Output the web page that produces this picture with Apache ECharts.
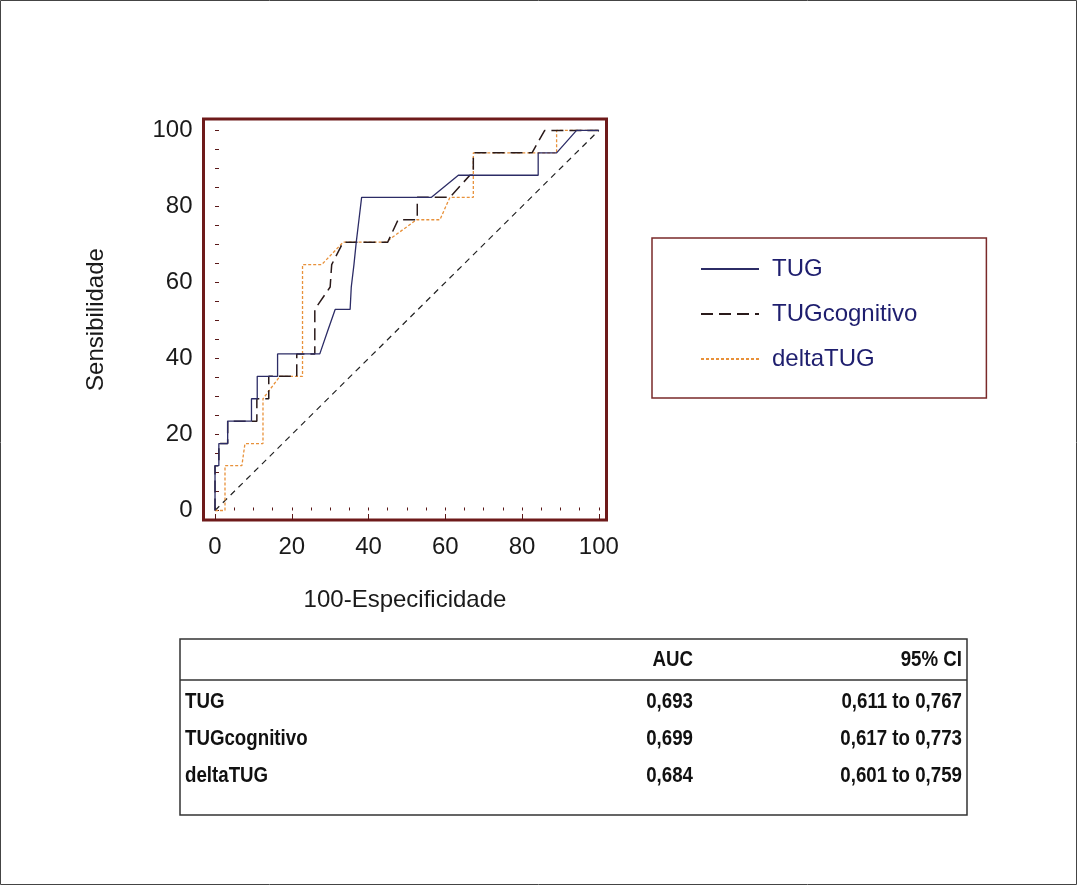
<!DOCTYPE html>
<html>
<head>
<meta charset="utf-8">
<script src="https://cdn.jsdelivr.net/npm/echarts@6/dist/echarts.min.js"></script>
<style>
html,body{margin:0;padding:0;background:#fff;}
#chart{width:1078px;height:886px;}
</style>
</head>
<body>
<div id="chart"></div>
<script>
// ---- data ----
const seriesNames = ['TUG', 'TUGcognitivo', 'deltaTUG'];
const xTickLabels = [0, 20, 40, 60, 80, 100];
const yTickLabels = [0, 20, 40, 60, 80, 100];
const minorTicks = [0,5,10,15,20,25,30,35,40,45,50,55,60,65,70,75,80,85,90,95,100];

const tugPoints = [[0,0],[0,11.8],[1,11.8],[1,17.6],[3.3,17.6],[3.3,23.5],[9.5,23.5],[9.5,29.4],[11,29.4],[11,35.3],[16.3,35.3],[16.3,41.2],[27.3,41.2],[29.3,47.1],[31.3,52.9],[35.2,52.9],[35.5,58.8],[36.2,64.7],[36.8,70.6],[37.5,76.5],[38.2,82.4],[56.4,82.4],[63.4,88.2],[84.2,88.2],[84.2,94.1],[89,94.1],[94.2,100],[100,100]];
const tugCogPoints = [[0,0],[0,11.8],[1,11.8],[1,17.6],[3.3,17.6],[3.3,23.5],[10.9,23.5],[10.9,29.4],[14,29.4],[14,35.3],[21.3,35.3],[21.3,41.2],[26,41.2],[26,52.9],[30,58.8],[30.4,64.7],[33.4,70.6],[45,70.6],[47.7,76.5],[52.7,76.5],[52.7,82.4],[61.2,82.4],[66.4,88.2],[67.3,88.2],[67.3,94.1],[82.6,94.1],[85.9,100],[100,100]];
const deltaTugPoints = [[0,0],[2.6,0],[2.6,11.8],[7,11.8],[7.8,17.6],[12.5,17.6],[12.5,29.4],[16.9,35.3],[22.8,35.3],[22.8,64.7],[27.8,64.7],[33.4,70.6],[44.5,70.6],[52.5,76.5],[58.6,76.5],[61.2,82.4],[67.3,82.4],[67.3,94.1],[89,94.1],[89,100],[100,100]];
const diagonalPoints = [[0,0],[100,100]];

const tableHeader = ['', 'AUC', '95% CI'];
const rowNames = ['TUG', 'TUGcognitivo', 'deltaTUG'];
const aucValues = ['0,693', '0,699', '0,684'];
const ciValues = ['0,611 to 0,767', '0,617 to 0,773', '0,601 to 0,759'];

// ---- chart ----
const chart = echarts.init(document.getElementById('chart'));
const axisFont = 'Liberation Sans, Arial, sans-serif';
const tableFont = '"Liberation Sans", Arial, sans-serif';

const tblLeft = 180, tblRight = 967, tblTop = 639, tblBottom = 815, headerLine = 680;
const rowY = [702, 739, 776];
const sx = 0.85;
function tText(str, x, y, align) {
  return {type:'text', x:x, y:y, scaleX:sx, style:{text:str, font:'bold 22px ' + tableFont, fill:'#111', align:align, verticalAlign:'middle'}};
}
const tableEls = [
  {type:'rect', shape:{x:tblLeft, y:tblTop, width:tblRight-tblLeft, height:tblBottom-tblTop}, style:{fill:'none', stroke:'#333', lineWidth:1.5}},
  {type:'line', shape:{x1:tblLeft, y1:headerLine, x2:tblRight, y2:headerLine}, style:{stroke:'#333', lineWidth:1.5}},
  tText(tableHeader[1], 693, 660, 'right'),
  tText(tableHeader[2], 962, 660, 'right')
];
rowNames.forEach((n, i) => {
  tableEls.push(tText(n, 185, rowY[i], 'left'));
  tableEls.push(tText(aucValues[i], 693, rowY[i], 'right'));
  tableEls.push(tText(ciValues[i], 962, rowY[i], 'right'));
});

const tickColor = '#5a1818';
const option = {
  backgroundColor: '#fff',
  animation: false,
  grid: {left: 203.5, top: 119, width: 403, height: 401, show: true, borderColor: '#6e1a1a', borderWidth: 3, backgroundColor: '#fff'},
  legend: {
    data: seriesNames,
    orient: 'vertical',
    left: 652, top: 238,
    padding: [19, 69, 27, 48],
    itemWidth: 58, itemHeight: 28, itemGap: 21,
    borderColor: '#7a2a2a', borderWidth: 1.5,
    itemStyle: {opacity: 0},
    textStyle: {fontFamily: axisFont, fontSize: 24, color: '#1e1e6e', padding: [0,0,0,8]}
  },
  xAxis: [{
    type: 'value', min: -3, max: 102,
    name: '100-Especificidade', nameLocation: 'middle', nameGap: 68,
    nameTextStyle: {fontFamily: axisFont, fontSize: 24, color: '#1a1a1a'},
    axisLine: {show: false},
    axisTick: {show: true, inside: true, length: 3, customValues: minorTicks, lineStyle: {color: tickColor, width: 1}},
    axisLabel: {customValues: xTickLabels, fontFamily: axisFont, fontSize: 24, color: '#1a1a1a', margin: 15},
    splitLine: {show: false}
  }, {
    type: 'value', min: -3, max: 102, position: 'bottom',
    axisLine: {show: false},
    axisTick: {show: true, inside: true, length: 6, customValues: xTickLabels, lineStyle: {color: tickColor, width: 1}},
    axisLabel: {show: false},
    splitLine: {show: false}
  }],
  yAxis: {
    type: 'value', min: -2.5, max: 103,
    name: 'Sensibilidade', nameLocation: 'middle', nameGap: 95,
    nameTextStyle: {fontFamily: axisFont, fontSize: 24, color: '#1a1a1a'},
    axisLine: {show: false},
    axisTick: {show: true, inside: true, length: 4, customValues: minorTicks, lineStyle: {color: tickColor, width: 1}},
    axisLabel: {customValues: yTickLabels, fontFamily: axisFont, fontSize: 24, color: '#1a1a1a', margin: 11},
    splitLine: {show: false}
  },
  series: [
    {name: 'TUG', type: 'line', data: tugPoints, symbol: 'none', z: 4,
     lineStyle: {color: '#2c2c66', width: 1.3, type: 'solid'}, itemStyle: {color: '#2c2c66'}},
    {name: 'TUGcognitivo', type: 'line', data: tugCogPoints, symbol: 'none', z: 3,
     lineStyle: {color: '#2a1a1a', width: 1.5, type: [12, 6]}, itemStyle: {color: '#2a1a1a'}},
    {name: 'deltaTUG', type: 'line', data: deltaTugPoints, symbol: 'none', z: 2,
     lineStyle: {color: '#e8913a', width: 1.3, type: [3, 2]}, itemStyle: {color: '#e8913a'}},
    {name: 'ref', type: 'line', data: diagonalPoints, symbol: 'none', z: 1, silent: true,
     lineStyle: {color: '#222', width: 1.2, type: [6, 5]}}
  ],
  graphic: [
    {type: 'rect', shape: {x: 0.5, y: 0.5, width: 1076, height: 884}, style: {fill: 'none', stroke: '#444', lineWidth: 1}, silent: true},
    {type: 'group', children: tableEls}
  ]
};
chart.setOption(option);
</script>
</body>
</html>
